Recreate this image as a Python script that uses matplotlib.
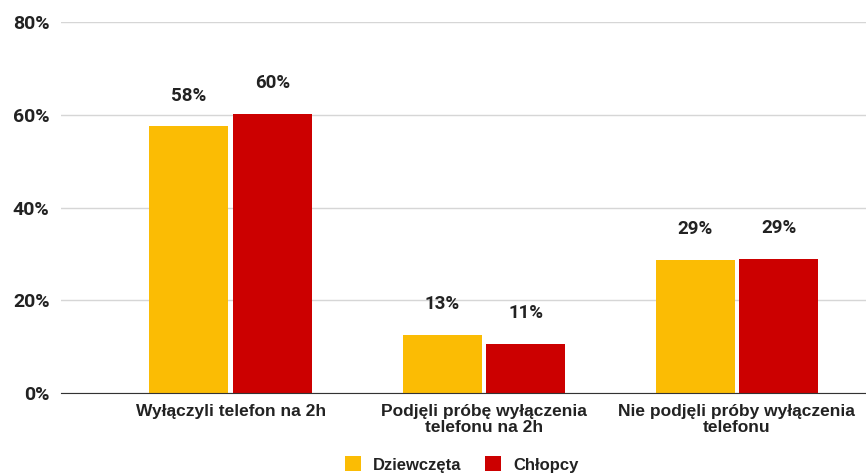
import matplotlib.pyplot as plt
import numpy as np

categories = ['Wyłączyli telefon na 2h',
              'Podjęli próbę wyłączenia\ntelefonu na 2h',
              'Nie podjęli próby wyłączenia\ntelefonu']
dziewczeta = [57.6, 12.6, 28.8]
chlopcy = [60.2, 10.6, 29.0]
series_names = ['Dziewczęta', 'Chłopcy']
yticks = [0, 20, 40, 60, 80]

yellow = '#fbbc04'
red = '#cc0000'

fig = plt.figure(figsize=(8.66, 4.73), dpi=100)
ax = fig.add_axes([0.070, 0.169, 0.930, 0.784])

x = np.arange(len(categories))
w = 0.312
off = 0.165
b1 = ax.bar(x - off, dziewczeta, w, color=yellow, label=series_names[0], zorder=3)
b2 = ax.bar(x + off, chlopcy, w, color=red, label=series_names[1], zorder=3)

for bars, vals in ((b1, dziewczeta), (b2, chlopcy)):
    for rect, v in zip(bars, vals):
        ax.annotate(f'{v:.0f}%', (rect.get_x() + rect.get_width() / 2, v),
                    xytext=(0, 22), textcoords='offset points',
                    ha='center', va='center', fontsize=13.5,
                    fontfamily='Roboto', fontweight='bold', color='#222222')

ax.set_xlim(-0.672, 2.51)
ax.set_ylim(0, 80)
ax.set_yticks(yticks)
ax.set_yticklabels([f'{t}%' for t in yticks], fontfamily='Roboto',
                   fontweight='bold', fontsize=14, color='#222222')
ax.set_xticks(x)
ax.set_xticklabels(categories, fontfamily='Liberation Sans', fontweight='bold',
                   fontsize=12.5, color='#222222', linespacing=1.05)
ax.tick_params(axis='both', length=0)
ax.tick_params(axis='y', pad=8)
ax.tick_params(axis='x', pad=8)

ax.grid(axis='y', color='#d6d6d6', linewidth=1, zorder=0)
for s in ['top', 'right', 'left']:
    ax.spines[s].set_visible(False)
ax.spines['bottom'].set_color('#333333')
ax.spines['bottom'].set_zorder(4)

leg = fig.legend(loc='center', bbox_to_anchor=(0.533, 0.018), ncol=2, frameon=False,
                 handlelength=1.0, handleheight=1.0, handletextpad=0.7,
                 columnspacing=1.4, prop={'family': 'Liberation Sans', 'weight': 'bold', 'size': 12})
for t in leg.get_texts():
    t.set_color('#222222')

fig.savefig('out.png', dpi=100)
